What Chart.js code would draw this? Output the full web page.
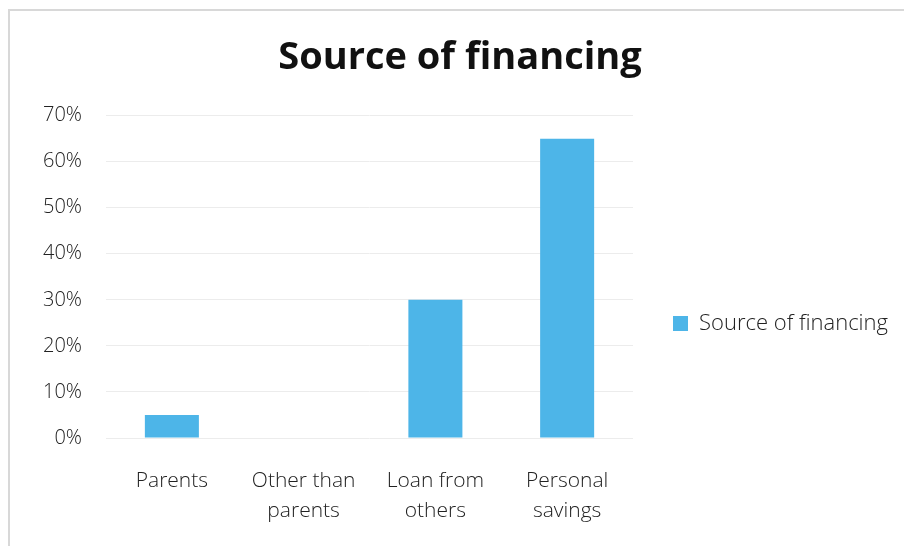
<!DOCTYPE html>
<html>
<head>
<meta charset="utf-8">
<script src="https://cdn.jsdelivr.net/npm/chart.js@4.4.1/dist/chart.umd.min.js"></script>
<style>
  html, body { margin: 0; padding: 0; background: #fff; }
  #wrap { position: relative; width: 904px; height: 546px; }
  #frame {
    position: absolute; left: 8px; top: 9px; width: 1000px; height: 700px;
    border-top: 2px solid #d8d8d8; border-left: 2px solid #d8d8d8;
    pointer-events: none;
  }
</style>
</head>
<body>
<div id="wrap">
  <canvas id="grafica" width="904" height="546"></canvas>
  <div id="frame"></div>
</div>
<script>
const categorias = [['Parents'], ['Other than', 'parents'], ['Loan from', 'others'], ['Personal', 'savings']];
const valores = [5, 0, 30, 65];
const ticksY = [0, 10, 20, 30, 40, 50, 60, 70];
const serie = 'Source of financing';

const fuenteTexto = '"Open Sans", "Noto Sans", sans-serif';

// baja la leyenda hasta la altura del original
const bajarLeyenda = {
    id: 'bajarLeyenda',
    afterLayout(chart) {
        const l = chart.legend;
        if (!l) return;
        l.top += 122;
    }
};

new Chart(document.getElementById('grafica'), {
    type: 'bar',
    data: {
        labels: categorias,
        datasets: [{
            label: serie,
            data: valores,
            backgroundColor: '#4db5e8',
            borderWidth: 0,
            categoryPercentage: 1,
            barPercentage: 0.41
        }]
    },
    options: {
        responsive: false,
        animation: false,
        layout: { padding: { left: 22, right: 6, top: 0, bottom: 21 } },
        plugins: {
            title: {
                display: true,
                text: 'Source of financing',
                color: '#111',
                font: { family: fuenteTexto, size: 38, weight: 'bold' },
                padding: { top: 35, bottom: 35 }
            },
            legend: {
                position: 'right',
                maxWidth: 400,
                labels: {
                    boxWidth: 15,
                    boxHeight: 15,
                    padding: 40,
                    color: '#222',
                    font: { family: fuenteTexto, size: 22, weight: '300' }
                }
            },
            tooltip: { enabled: false }
        },
        scales: {
            x: {
                afterFit(scale) { scale.height = 87; },
                grid: { display: false },
                border: { display: false },
                ticks: {
                    color: '#222',
                    padding: 20,
                    maxRotation: 0,
                    font: { family: fuenteTexto, size: 21, weight: '300', lineHeight: 1.43 }
                }
            },
            y: {
                min: 0,
                max: 70,
                afterFit(scale) { scale.width = 84; },
                afterBuildTicks(scale) { scale.ticks = ticksY.map(v => ({ value: v })); },
                grid: { color: '#ececec', drawTicks: false },
                border: { display: false },
                ticks: {
                    color: '#222',
                    padding: 24,
                    font: { family: fuenteTexto, size: 20, weight: '300' },
                    callback: v => v + '%'
                }
            }
        }
    },
    plugins: [bajarLeyenda]
});
</script>
</body>
</html>
